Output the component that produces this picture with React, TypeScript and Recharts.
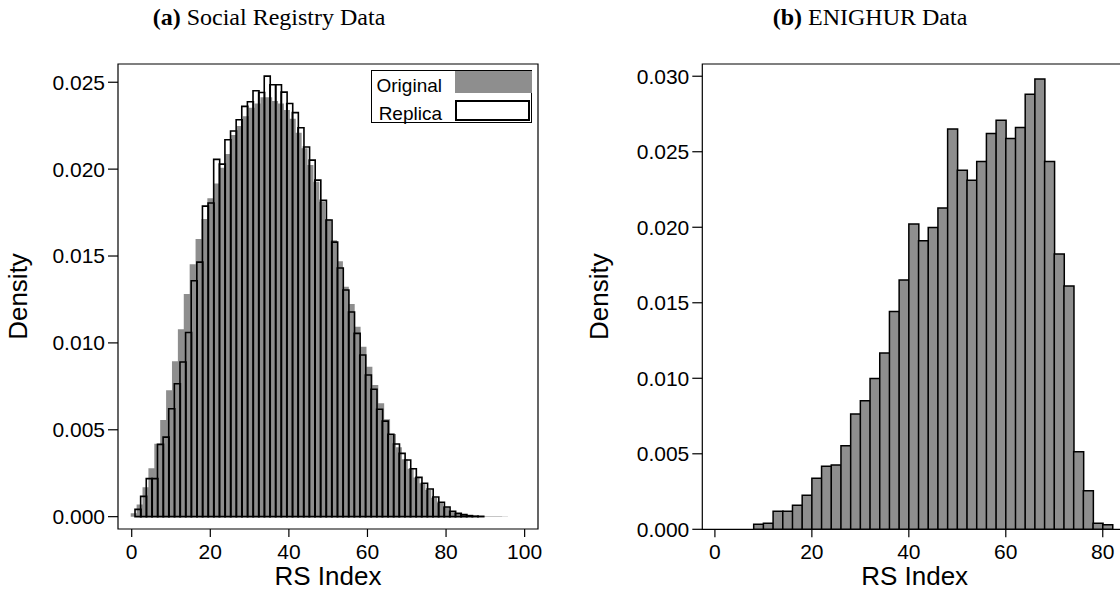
import { ComposedChart, Bar, Area, XAxis, YAxis, ReferenceArea, Legend } from 'recharts';

const FONT = '"Liberation Sans", Arial, Helvetica, sans-serif';
const SERIF = '"Liberation Serif", "Times New Roman", Times, serif';
const GRAY = '#8e8e8e';

// (a) Social Registry Data
const SR_TICKS_X = [0, 20, 40, 60, 80, 100];
const SR_TICKS_Y = [0, 0.005, 0.01, 0.015, 0.02, 0.025];

const REPLICA_START = 0.84;
const REPLICA_WIDTH = 1.43;
const REPLICA_DENSITY = [
    0.00042, 0.00117, 0.00219, 0.00219, 0.00416, 0.00458, 0.00621, 0.00765, 0.0089, 0.0106,
    0.01358, 0.01465, 0.01787, 0.01805, 0.02056, 0.02029, 0.02169, 0.02219, 0.02284, 0.02361,
    0.02388, 0.02451, 0.02441, 0.02535, 0.02486, 0.02486, 0.02443, 0.02378, 0.02325, 0.02238,
    0.02127, 0.02052, 0.01937, 0.0182, 0.01707, 0.0158, 0.01431, 0.01304, 0.01178, 0.01055,
    0.0093, 0.00815, 0.00733, 0.00618, 0.0055, 0.00474, 0.00418, 0.00364, 0.00326, 0.00276,
    0.00226, 0.00192, 0.00159, 0.00113, 0.00083, 0.00056, 0.00031, 0.00019, 0.00012, 0.00006,
    0.00003, 0.00002,
];

const ORIGINAL_START = -0.25;
const ORIGINAL_WIDTH = 1.5;
const ORIGINAL_DENSITY = [
    0.00019, 0.0007, 0.00169, 0.00278, 0.0042, 0.00556, 0.00727, 0.00894, 0.01078, 0.01281,
    0.01452, 0.01598, 0.01713, 0.01832, 0.01918, 0.02008, 0.02087, 0.02196, 0.02248, 0.02305,
    0.02353, 0.02378, 0.02413, 0.02413, 0.02392, 0.02378, 0.0234, 0.0229, 0.0221, 0.0212,
    0.02024, 0.01928, 0.01812, 0.0171, 0.0159, 0.0147, 0.01323, 0.01224, 0.01093, 0.00978,
    0.00863, 0.00758, 0.00652, 0.0056, 0.00476, 0.00399, 0.0033, 0.00276, 0.00226, 0.00192,
    0.00153, 0.00109, 0.0008, 0.00054, 0.00031, 0.00019, 0.00012, 0.00008, 0.00004, 0.00003,
    0.00002, 0.00002, 0.00002, 0.00001,
];

// (b) ENIGHUR Data
const EN_TICKS_X = [0, 20, 40, 60, 80];
const EN_TICKS_Y = [0, 0.005, 0.01, 0.015, 0.02, 0.025, 0.03];

const ENIGHUR_START = 8;
const ENIGHUR_WIDTH = 2;
const ENIGHUR_DENSITY = [
    0.00033, 0.0004, 0.0012, 0.0012, 0.0016, 0.00225, 0.00338, 0.00417, 0.00426, 0.00554,
    0.00764, 0.00852, 0.00998, 0.01168, 0.01442, 0.01651, 0.02022, 0.0191, 0.01998, 0.02128,
    0.02651, 0.02377, 0.02311, 0.02435, 0.0262, 0.02709, 0.02587, 0.0266, 0.02881, 0.02982,
    0.02435, 0.01823, 0.01611, 0.00514, 0.00256, 0.0004, 0.0003,
];

const replicaData = REPLICA_DENSITY.map((d, i) => ({ x: REPLICA_START + REPLICA_WIDTH * (i + 0.5), replica: d }));

// step area needs one extra point to close the last bin
const originalData = [
    ...ORIGINAL_DENSITY.map((d, i) => ({ x: ORIGINAL_START + ORIGINAL_WIDTH * i, original: d })),
    {
        x: ORIGINAL_START + ORIGINAL_WIDTH * ORIGINAL_DENSITY.length,
        original: ORIGINAL_DENSITY[ORIGINAL_DENSITY.length - 1],
    },
];

const enighurData = ENIGHUR_DENSITY.map((d, i) => ({ x: ENIGHUR_START + ENIGHUR_WIDTH * (i + 0.5), density: d }));

const SR_X_DOMAIN: [number, number] = [-3.49, 103.4];
const SR_Y_DOMAIN: [number, number] = [-0.00071, 0.02605];
const EN_X_DOMAIN: [number, number] = [-2.6, 85];
const EN_Y_DOMAIN: [number, number] = [0, 0.03081];

const tickStyle = { fill: '#000', fontSize: 21, fontFamily: FONT };
const tickLineStyle = { stroke: '#000', strokeWidth: 1.2 };
const axisTitleStyle = { fill: '#000', fontSize: 26, fontFamily: FONT, textAnchor: 'middle' as const };

function HistLegend() {
    return (
        <div
            style={{
                position: 'relative',
                width: 161,
                height: 53,
                boxSizing: 'border-box',
                border: '1px solid #000',
                background: '#fff',
                fontFamily: FONT,
                fontSize: 19,
                color: '#000',
                lineHeight: '19px',
            }}
        >
            <span style={{ position: 'absolute', right: 89, top: 5 }}>Original</span>
            <span style={{ position: 'absolute', left: 83, top: 0, width: 77, height: 22, background: GRAY }} />
            <span style={{ position: 'absolute', right: 89, top: 33 }}>Replica</span>
            <span
                style={{
                    position: 'absolute',
                    left: 83,
                    top: 29,
                    width: 75,
                    height: 21,
                    boxSizing: 'border-box',
                    border: '2px solid #000',
                    background: '#fff',
                }}
            />
        </div>
    );
}

function PanelTitle({ tag, text, center }: { tag: string; text: string; center: number }) {
    return (
        <div
            style={{
                position: 'absolute',
                left: center - 200,
                width: 400,
                top: 5,
                textAlign: 'center',
                fontFamily: SERIF,
                fontSize: 24,
                lineHeight: '24px',
                color: '#000',
                whiteSpace: 'nowrap',
            }}
        >
            <b>{tag}</b> {text}
        </div>
    );
}

function SocialRegistryChart() {
    return (
        <ComposedChart
            width={560}
            height={590}
            data={replicaData}
            margin={{ top: 64, right: 22, left: 8, bottom: 5 }}
            barCategoryGap={0}
            barGap={0}
        >
            <XAxis
                dataKey="x"
                type="number"
                domain={SR_X_DOMAIN}
                ticks={SR_TICKS_X}
                allowDataOverflow
                height={56}
                axisLine={false}
                tick={tickStyle}
                tickLine={tickLineStyle}
                tickSize={8}
                tickMargin={7}
                label={{ value: 'RS Index', position: 'insideBottom', offset: 0, style: axisTitleStyle }}
            />
            <XAxis xAxisId="orig" dataKey="x" type="number" domain={SR_X_DOMAIN} allowDataOverflow hide />
            <YAxis
                type="number"
                domain={SR_Y_DOMAIN}
                ticks={SR_TICKS_Y}
                allowDataOverflow
                width={110}
                axisLine={false}
                tick={tickStyle}
                tickLine={tickLineStyle}
                tickSize={10}
                tickMargin={3}
                tickFormatter={(v: number) => v.toFixed(3)}
                label={{ value: 'Density', angle: -90, position: 'insideLeft', offset: 10, style: axisTitleStyle }}
            />
            <Area
                xAxisId="orig"
                data={originalData}
                dataKey="original"
                type="stepAfter"
                baseValue={0}
                fill={GRAY}
                fillOpacity={1}
                stroke="none"
                dot={false}
                activeDot={false}
                isAnimationActive={false}
            />
            <Bar dataKey="replica" fill="none" stroke="#000" strokeWidth={1.6} isAnimationActive={false} />
            <ReferenceArea
                x1={SR_X_DOMAIN[0]}
                x2={SR_X_DOMAIN[1]}
                y1={SR_Y_DOMAIN[0]}
                y2={SR_Y_DOMAIN[1]}
                fill="none"
                stroke="#000"
                strokeWidth={1.2}
                ifOverflow="visible"
            />
            <Legend
                layout="horizontal"
                verticalAlign="middle"
                align="center"
                content={() => <HistLegend />}
                wrapperStyle={{ left: 371, top: 70, width: 161, height: 53 }}
            />
        </ComposedChart>
    );
}

function EnighurChart() {
    return (
        <ComposedChart
            width={580}
            height={590}
            data={enighurData}
            margin={{ top: 64, right: 13, left: 32.3, bottom: 4.7 }}
            barCategoryGap={0}
            barGap={0}
        >
            <XAxis
                dataKey="x"
                type="number"
                domain={EN_X_DOMAIN}
                ticks={EN_TICKS_X}
                allowDataOverflow
                height={56}
                axisLine={false}
                tick={tickStyle}
                tickLine={tickLineStyle}
                tickSize={8}
                tickMargin={7}
                label={{ value: 'RS Index', position: 'insideBottom', offset: 0, style: axisTitleStyle }}
            />
            <YAxis
                type="number"
                domain={EN_Y_DOMAIN}
                ticks={EN_TICKS_Y}
                allowDataOverflow
                width={110}
                axisLine={false}
                tick={tickStyle}
                tickLine={tickLineStyle}
                tickSize={10}
                tickMargin={3}
                tickFormatter={(v: number) => v.toFixed(3)}
                label={{ value: 'Density', angle: -90, position: 'insideLeft', offset: 6, style: axisTitleStyle }}
            />
            <Bar dataKey="density" fill={GRAY} stroke="#000" strokeWidth={1.5} isAnimationActive={false} />
            <ReferenceArea
                x1={EN_X_DOMAIN[0]}
                x2={EN_X_DOMAIN[1]}
                y1={EN_Y_DOMAIN[0]}
                y2={EN_Y_DOMAIN[1]}
                fill="none"
                stroke="#000"
                strokeWidth={1.2}
                ifOverflow="visible"
            />
        </ComposedChart>
    );
}

export default function App() {
    return (
        <div
            style={{
                position: 'fixed',
                left: 0,
                top: 0,
                width: 1120,
                height: 590,
                overflow: 'hidden',
                background: '#fff',
            }}
        >
            <PanelTitle tag="(a)" text="Social Registry Data" center={269} />
            <PanelTitle tag="(b)" text="ENIGHUR Data" center={870} />
            <div style={{ position: 'absolute', left: 0, top: 0 }}>
                <SocialRegistryChart />
            </div>
            <div style={{ position: 'absolute', left: 560, top: 0 }}>
                <EnighurChart />
            </div>
        </div>
    );
}
